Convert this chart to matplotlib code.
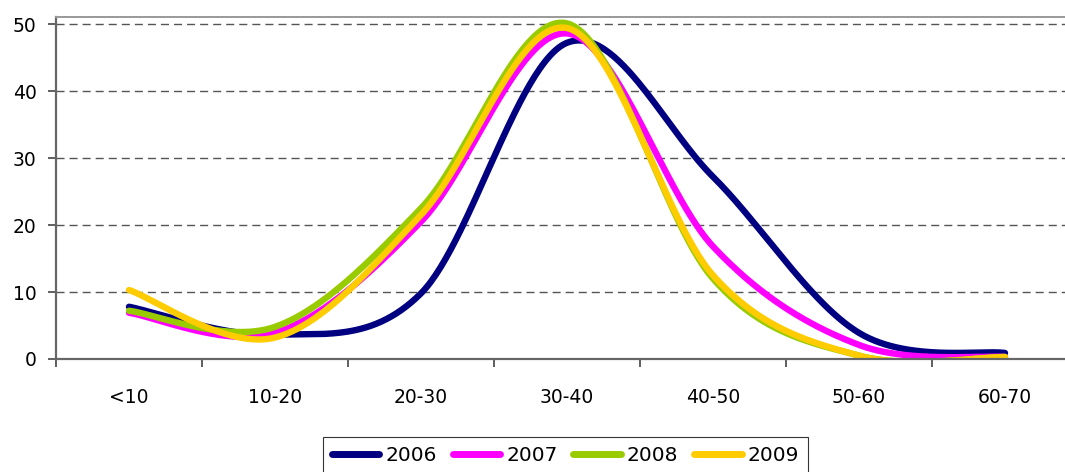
import numpy as np
import matplotlib
matplotlib.use("Agg")
import matplotlib.pyplot as plt
from matplotlib.ticker import FixedLocator, NullFormatter

categories = ["<10", "10-20", "20-30", "30-40", "40-50", "50-60", "60-70"]
years = ["2006", "2007", "2008", "2009"]
v2006 = [7.8, 3.6, 9.8, 47.2, 27.2, 3.9, 0.9]
v2007 = [6.9, 3.9, 20.5, 48.6, 16.8, 2.1, 0.3]
v2008 = [7.2, 4.8, 22.5, 50.1, 12.0, 0.5, 0.3]
v2009 = [10.3, 3.2, 21.5, 49.4, 12.5, 0.5, 0.3]
colors = ["#000080", "#FF00FF", "#99CC00", "#FFCC00"]
y_ticks = [0, 10, 20, 30, 40, 50]


def smooth(xs, ys, n=60):
    """Cardinal (Catmull-Rom) Bezier smoothing through every point."""
    p = np.column_stack([xs, ys]).astype(float)
    ext = np.vstack([p[0], p, p[-1]])
    out = []
    t = np.linspace(0, 1, n)[:, None]
    for i in range(len(p) - 1):
        p0, p3 = p[i], p[i + 1]
        c1 = p0 + (ext[i + 2] - ext[i]) / 6.0
        c2 = p3 - (ext[i + 3] - ext[i + 1]) / 6.0
        seg = ((1 - t) ** 3) * p0 + 3 * ((1 - t) ** 2) * t * c1 \
            + 3 * (1 - t) * t ** 2 * c2 + t ** 3 * p3
        out.append(seg if i == 0 else seg[1:])
    out = np.vstack(out)
    return out[:, 0], out[:, 1]


plt.rcParams["font.family"] = ["DejaVu Sans"]
plt.rcParams["font.size"] = 13.5

fig = plt.figure(figsize=(10.65, 4.72), dpi=100)
ax = fig.add_axes([56 / 1065, (472 - 359) / 472, (1078 - 56) / 1065, (359 - 17) / 472])

x = np.arange(len(categories))
series = [v2006, v2007, v2008, v2009]
for name, vals, col in zip(years, series, colors):
    sx, sy = smooth(x, vals)
    ax.plot(sx, sy, color=col, lw=4.6, solid_capstyle="round",
            solid_joinstyle="round", label=name)

ax.set_xlim(-0.5, len(categories) - 0.5)
ax.set_ylim(0, 51.05)

ax.set_yticks(y_ticks)
ax.yaxis.grid(True, linestyle=(0, (5.8, 3.6)), color="#555555", lw=1.0)
ax.set_axisbelow(True)

ax.set_xticks(x)
ax.set_xticklabels(categories)
ax.xaxis.set_minor_locator(FixedLocator(np.arange(-0.5, len(categories), 1.0)))
ax.xaxis.set_minor_formatter(NullFormatter())
ax.tick_params(axis="x", which="major", length=0, pad=21)
ax.tick_params(axis="x", which="minor", length=6, width=1.2, color="#444444")
ax.tick_params(axis="y", length=6, width=1.2, color="#444444", pad=8)

for side in ("left", "bottom"):
    ax.spines[side].set_color("#666666")
    ax.spines[side].set_linewidth(1.6)
ax.spines["top"].set_color("#999999")
ax.spines["top"].set_linewidth(1.4)
ax.spines["right"].set_visible(False)

leg = ax.legend(loc="upper center", bbox_to_anchor=(565.5 / 1065, (472 - 437) / 472),
                bbox_transform=fig.transFigure, ncol=4, frameon=True,
                fancybox=False, edgecolor="black", handlelength=2.35,
                handletextpad=0.3, columnspacing=0.8, borderpad=0.45,
                borderaxespad=0, fontsize=14.5)
leg.get_frame().set_linewidth(0.8)
for h in leg.get_lines():
    h.set_linewidth(5)
    h.set_solid_capstyle("round")

fig.savefig("out.png", dpi=100)
